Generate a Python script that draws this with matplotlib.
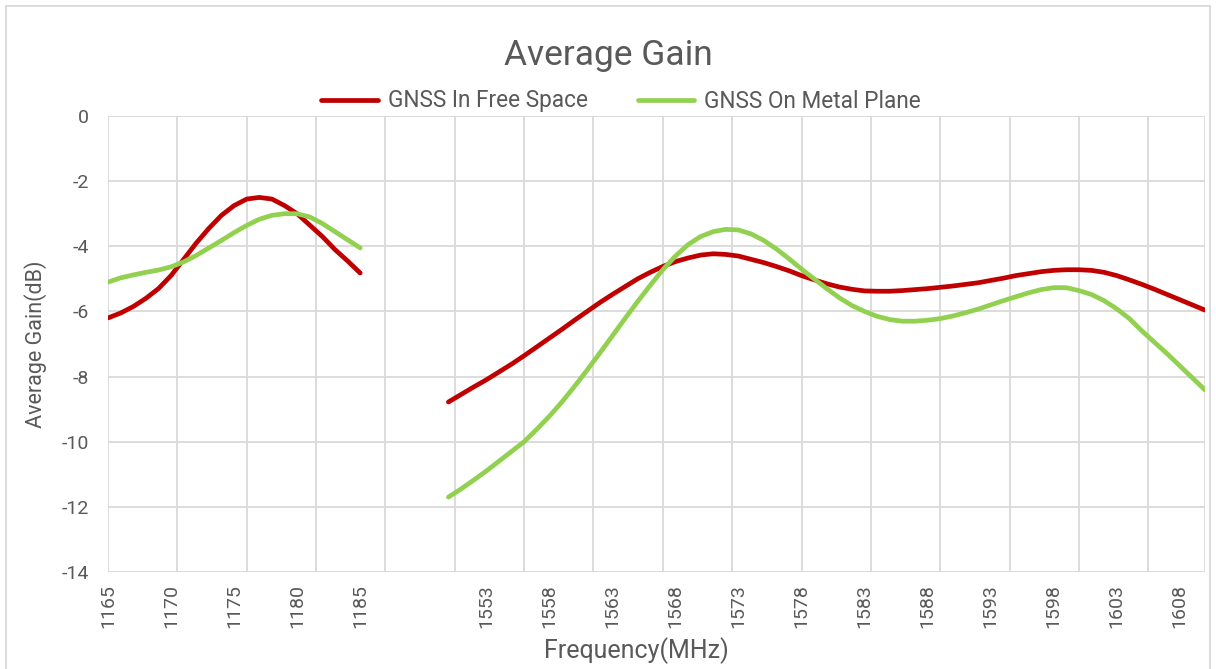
import matplotlib.pyplot as plt
import numpy as np
from matplotlib.patches import Rectangle

# === DATA ===
low_freqs = list(range(1165, 1186))
high_freqs = list(range(1550, 1611))
n_blank = 6  # empty category rows between the two bands

free_low = [-6.2, -6.05, -5.85, -5.6, -5.3, -4.9, -4.4, -3.9, -3.45, -3.05, -2.75,
            -2.55, -2.5, -2.55, -2.75, -3.0, -3.35, -3.7, -4.1, -4.45, -4.82]
metal_low = [-5.1, -4.97, -4.88, -4.8, -4.73, -4.63, -4.48, -4.28, -4.05, -3.82, -3.58,
             -3.36, -3.17, -3.05, -3.0, -3.0, -3.1, -3.3, -3.55, -3.8, -4.05]

free_high = [-8.78, -8.55, -8.32, -8.1, -7.86, -7.62, -7.36, -7.09, -6.82, -6.55,
             -6.27, -6.0, -5.73, -5.48, -5.24, -5.0, -4.8, -4.62, -4.47, -4.36,
             -4.27, -4.23, -4.25, -4.3, -4.4, -4.5, -4.62, -4.75, -4.9, -5.03,
             -5.15, -5.25, -5.32, -5.37, -5.38, -5.38, -5.36, -5.33, -5.3, -5.26,
             -5.22, -5.17, -5.12, -5.05, -4.98, -4.9, -4.84, -4.78, -4.74, -4.72,
             -4.72, -4.74, -4.8, -4.9, -5.03, -5.17, -5.32, -5.48, -5.64, -5.8,
             -5.96]
metal_high = [-11.7, -11.45, -11.18, -10.9, -10.6, -10.3, -10.0, -9.62, -9.22, -8.78,
              -8.3, -7.8, -7.28, -6.75, -6.22, -5.7, -5.2, -4.72, -4.3, -3.95,
              -3.7, -3.55, -3.48, -3.5, -3.62, -3.82, -4.08, -4.38, -4.7, -5.0,
              -5.3, -5.58, -5.82, -6.0, -6.15, -6.25, -6.3, -6.3, -6.27, -6.22,
              -6.14, -6.04, -5.93, -5.8, -5.67, -5.55, -5.43, -5.33, -5.27, -5.27,
              -5.36, -5.48, -5.67, -5.92, -6.22, -6.6, -6.95, -7.3, -7.67, -8.04,
              -8.41]

categories = [str(f) for f in low_freqs] + [''] * n_blank + [str(f) for f in high_freqs]
yticks = list(range(0, -15, -2))

# === STYLE ===
RED = '#C00000'
GREEN = '#92D050'
TXT = '#595959'
GRID = '#D9D9D9'
plt.rcParams['font.family'] = ['Roboto', 'DejaVu Sans']

W, H = 1216, 669
fig = plt.figure(figsize=(W / 100, H / 100), dpi=100)
ax = fig.add_axes([108 / W, 1 - 572 / H, (1205 - 108) / W, (572 - 116) / H])

x_low = np.arange(len(low_freqs))
x_high = np.arange(len(high_freqs)) + len(low_freqs) + n_blank
x_max = len(categories) - 1

# gridlines (Excel draws them every 5.5 categories here)
for gx in list(np.arange(0, x_max, 5.5)) + [x_max]:
    ax.axvline(gx, color=GRID, lw=1.3, zorder=0)
for gy in yticks:
    ax.axhline(gy, color=GRID, lw=1.3, zorder=0)

lw = 3.4
l1, = ax.plot(x_low, free_low, color=RED, lw=lw, solid_capstyle='round')
ax.plot(x_high, free_high, color=RED, lw=lw, solid_capstyle='round')
l2, = ax.plot(x_low, metal_low, color=GREEN, lw=lw, solid_capstyle='round')
ax.plot(x_high, metal_high, color=GREEN, lw=lw, solid_capstyle='round')

ax.set_xlim(0, x_max)
ax.set_ylim(-14, 0)
for s in ax.spines.values():
    s.set_visible(False)

tick_pos = np.arange(0, len(categories), 5)
ax.set_xticks(tick_pos)
ax.set_xticklabels([categories[i] for i in tick_pos], rotation=90, fontsize=14, color=TXT)
ax.set_yticks(yticks)
ax.set_yticklabels([str(v) for v in yticks], fontsize=14, color=TXT)
ax.tick_params(axis='both', length=0)
ax.tick_params(axis='x', pad=9)
ax.tick_params(axis='y', pad=14)

ax.set_xlabel('Frequency(MHz)', fontsize=18, color=TXT)
ax.xaxis.set_label_coords((636 - 108) / (1205 - 108), -(651 - 572) / (572 - 116))
ax.xaxis.label.set_va('center')
ax.set_ylabel('Average Gain(dB)', fontsize=15.5, color=TXT, labelpad=10)

fig.text(0.5, 1 - 55 / H, 'Average Gain', ha='center', va='center', fontsize=25.5, color=TXT)

leg = fig.legend([l1, l2], ['GNSS In Free Space', 'GNSS On Metal Plane'],
                 loc='center', bbox_to_anchor=(0.5 + 13 / W, 1 - 101 / H), ncol=2, frameon=False,
                 fontsize=16.3, handlelength=2.5, handletextpad=0.45, columnspacing=2.2)
for t in leg.get_texts():
    t.set_color(TXT)

# chart area border
fig.patches.append(Rectangle((6 / W, -0.1), (1210 - 6) / W, 1.1 - 6 / H,
                             transform=fig.transFigure, fill=False, edgecolor=GRID, lw=1.3))

fig.savefig('out.png', dpi=100)
